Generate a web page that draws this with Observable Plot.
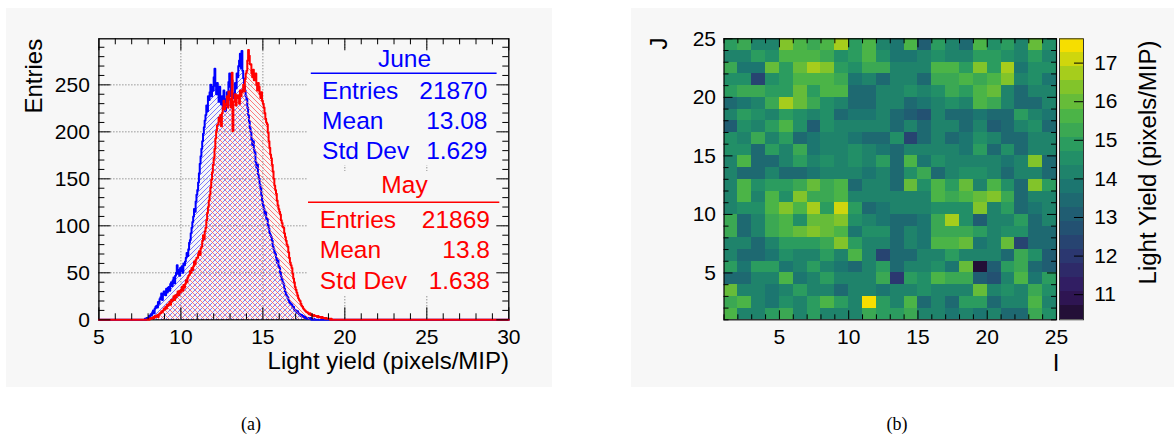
<!DOCTYPE html>
<html>
<head>
<meta charset="utf-8">
<script src="https://cdn.jsdelivr.net/npm/d3@7"></script>
<script src="https://cdn.jsdelivr.net/npm/@observablehq/plot@0.6"></script>
<style>
  html, body { margin: 0; padding: 0; background: #ffffff; width: 1174px; height: 437px; overflow: hidden; }
  #page { position: relative; width: 1174px; height: 437px; font-family: "Liberation Sans", Arial, Helvetica, sans-serif; }
  .panel { position: absolute; background: #f7f7f7; }
  .holder { position: absolute; top: 0; }
</style>
</head>
<body>
<svg width="0" height="0" style="position:absolute;left:0;top:0">
  <defs>
    <pattern id="hatchBlue" patternUnits="userSpaceOnUse" width="5" height="5">
      <path d="M-1,1 l2,-2 M0,5 l5,-5 M4,6 l2,-2" stroke="#5a5aff" stroke-width="0.8" fill="none"/>
    </pattern>
    <pattern id="hatchRed" patternUnits="userSpaceOnUse" width="5" height="5">
      <path d="M-1,4 l2,2 M0,0 l5,5 M4,-1 l2,2" stroke="#ff5a5a" stroke-width="0.8" fill="none"/>
    </pattern>
  </defs>
</svg>
<div id="page">
  <div class="panel" style="left:6px;top:8px;width:546px;height:379px"></div>
  <div class="panel" style="left:631px;top:8px;width:543px;height:379px"></div>
  <div id="plotA" class="holder" style="left:0px;width:560px;height:395px"></div>
  <div id="plotB" class="holder" style="left:600px;width:574px;height:395px"></div>
  <div id="plotC" class="holder" style="left:1059.3px;width:114.7px;height:395px"></div>
  <svg id="captions" width="1174" height="437" style="position:absolute;left:0;top:0;pointer-events:none"></svg>
</div>
<script>
// ---------------- DATA ----------------
const binWidth = 0.05;

// June histogram (blue): counts per 0.05 bin starting at juneStart
const juneStart = 7.80;
const juneCounts = [
  1,0,2,1,
  2,4,3,6,5,
  8,10,7,12,14,
  15,13,19,17,22,
  24,28,21,27,30,
  30,26,33,29,34,
  35,31,38,40,36,
  42,45,39,47,50,
  58,49,53,47,55,
  52,57,50,60,58,
  62,66,71,68,75,
  82,85,92,98,104,
  110,118,115,126,133,
  138,146,156,166,174,
  182,190,198,205,212,
  218,228,222,238,234,
  242,250,238,248,244,
  258,267,249,240,252,
  245,232,248,238,229,
  238,226,244,235,222,
  235,242,228,253,262,
  248,238,255,241,236,
  240,252,246,262,258,
  270,276,283,268,286,
  265,257,249,244,238,
  235,226,218,211,204,
  200,192,186,190,181,
  178,168,162,165,155,
  150,144,140,132,126,
  122,118,112,115,108,
  107,101,97,92,90,
  88,84,78,75,72,
  70,66,61,63,57,
  55,50,46,43,40,
  38,33,30,27,25,
  24,21,19,18,17,
  16,13,14,11,10,
  10,8,9,7,6,
  6,4,5,3,4,
  3,2,3,2,1,
  2,1,1,2,0,
  1,0,1
];

// May histogram (red)
const mayStart = 8.00;
const mayCounts = [
  1,0,1,2,1,
  2,3,2,4,3,
  4,5,3,6,7,
  7,9,8,10,12,
  11,14,12,16,15,
  17,19,16,21,20,
  22,25,21,26,24,
  27,30,26,31,29,
  32,35,31,37,34,
  38,42,40,45,47,
  48,52,50,55,53,
  57,62,59,64,66,
  66,70,73,69,76,
  78,84,90,86,94,
  98,106,114,120,127,
  133,141,149,157,165,
  172,182,193,201,207,
  208,215,211,218,206,
  220,226,233,224,229,
  230,238,226,243,235,
  235,226,263,201,232,
  232,240,228,236,239,
  237,230,244,238,242,
  245,250,243,256,262,
  265,276,287,281,272,
  272,262,258,266,255,
  258,262,250,244,252,
  248,240,236,242,233,
  230,226,220,214,210,
  208,199,190,183,176,
  172,165,158,150,143,
  138,134,127,122,118,
  115,112,106,103,99,
  98,92,88,84,80,
  78,72,66,61,58,
  55,49,44,40,35,
  32,29,26,23,21,
  20,17,15,14,12,
  11,10,9,8,8,
  7,6,7,5,6,
  5,4,5,4,4,
  4,3,4,3,3,
  3,2,3,2,2,
  2,1,2,1,1,
  1,1,0,1
];

const seriesNames = ["June", "May"];
const seriesColors = ["#0000ff", "#ff0000"];
const statLabels = ["Entries", "Mean", "Std Dev"];
const juneStats = ["21870", "13.08", "1.629"];
const mayStats = ["21869", "13.8", "1.638"];

const histXTicks = [5, 10, 15, 20, 25, 30];
const histYTicks = [0, 50, 100, 150, 200, 250];
const histXTitle = "Light yield (pixels/MIP)";
const histYTitle = "Entries";

// Light yield map: rows from J = 24 (top) down to J = 1, columns I = 1..24
const lightYieldRows = [
  [14.9,15.4,14.0,14.3,16.4,15.8,15.4,15.6,16.9,15.0,15.7,14.2,13.7,15.6,13.0,14.9,14.3,13.6,15.6,14.6,15.0,14.2,15.9,14.6],
  [14.2,14.2,14.8,14.5,15.7,15.7,15.7,15.4,14.6,14.9,15.6,14.7,13.8,13.7,14.0,14.6,14.2,14.2,15.0,14.8,14.5,14.3,15.0,14.3],
  [15.3,13.8,13.8,16.0,15.0,15.9,16.8,16.4,14.8,14.4,15.3,15.3,14.2,14.2,14.2,15.6,15.6,14.9,16.3,14.8,16.8,13.8,14.6,14.5],
  [14.4,14.4,12.2,14.4,14.9,15.7,15.7,15.7,15.2,13.8,14.3,13.6,14.1,14.2,13.6,15.3,15.3,15.6,15.3,15.6,16.3,14.3,14.6,13.8],
  [15.0,15.4,15.4,14.8,14.8,15.9,14.8,15.7,15.7,13.6,13.6,14.1,14.1,14.7,14.3,14.6,15.2,14.8,15.5,15.9,14.1,13.5,14.2,14.0],
  [13.3,13.9,14.1,15.2,16.8,15.9,15.2,14.7,14.2,13.6,13.4,14.1,14.0,13.5,13.7,14.0,14.5,14.2,15.6,15.2,14.1,13.3,13.5,14.2],
  [14.2,14.8,14.5,14.0,14.9,14.6,14.2,14.5,13.3,13.9,13.9,14.2,13.6,13.2,12.8,14.0,13.6,13.6,13.9,13.5,13.3,14.9,14.1,13.7],
  [13.2,14.6,14.0,14.8,15.6,14.6,13.2,14.5,14.3,14.2,14.2,14.0,13.6,14.2,13.5,14.1,14.1,13.4,14.3,13.1,13.5,14.0,14.7,13.6],
  [14.5,14.3,15.3,14.2,14.8,13.4,13.9,14.2,14.2,13.7,13.6,13.4,14.6,12.4,13.5,14.2,13.4,13.7,14.6,14.1,13.4,13.6,14.2,14.0],
  [14.4,14.6,13.6,14.8,14.3,15.2,13.8,14.3,14.1,14.5,14.2,13.8,13.5,14.0,14.0,14.2,14.1,13.8,14.9,13.6,14.6,13.6,14.2,14.2],
  [14.3,15.8,13.6,13.6,14.0,14.8,14.2,14.4,14.2,14.5,14.0,14.8,13.5,15.6,13.7,14.6,14.1,14.3,14.3,14.0,13.8,14.2,16.3,13.6],
  [14.3,13.4,13.4,14.1,13.3,13.5,13.7,14.0,14.2,14.0,13.8,14.2,13.4,14.5,15.3,13.6,14.1,14.5,14.4,14.1,13.6,14.3,14.0,13.5],
  [14.3,15.7,14.6,15.0,15.0,15.2,15.9,15.3,15.6,13.3,14.3,14.3,13.6,16.0,14.4,15.6,14.9,15.9,14.3,15.6,14.6,13.6,16.3,14.8],
  [14.3,15.6,14.3,15.6,14.7,16.3,15.4,15.4,15.8,14.1,14.1,14.2,14.0,14.0,14.2,15.6,15.3,15.6,15.9,16.5,15.3,13.6,14.3,14.1],
  [14.2,14.6,14.6,15.8,16.2,15.8,16.8,14.8,17.2,15.0,13.6,13.9,14.1,14.0,14.2,14.7,14.7,14.7,16.3,14.0,14.8,13.3,13.7,14.2],
  [15.3,13.4,14.3,15.4,15.6,14.6,16.0,16.0,16.3,14.7,14.3,13.7,13.6,13.6,13.8,15.2,16.8,14.6,13.0,14.3,14.2,14.8,13.5,14.1],
  [15.3,13.4,14.1,15.2,15.7,16.1,16.5,15.9,15.6,13.8,14.4,14.4,13.3,14.3,13.8,15.3,15.3,15.3,14.9,14.2,14.6,14.6,13.3,13.6],
  [14.2,14.2,13.6,14.2,14.9,14.9,15.0,15.3,16.5,15.0,14.3,14.2,13.5,14.2,13.7,15.7,15.6,16.1,13.7,14.2,16.1,12.3,13.5,13.5],
  [14.3,13.6,13.4,13.7,14.7,14.1,14.1,14.8,14.3,15.7,14.1,12.3,13.5,13.6,14.0,14.0,14.8,14.1,14.1,14.0,13.3,15.4,14.6,13.2],
  [14.9,13.7,14.8,14.9,13.7,14.0,14.9,14.2,13.7,13.4,14.1,14.8,13.3,14.1,14.2,14.5,13.8,16.1,10.4,13.2,14.8,15.4,13.6,13.1],
  [13.6,13.6,14.2,14.2,15.7,13.8,14.2,14.8,14.3,14.2,14.2,15.2,12.0,15.0,14.7,15.6,15.3,15.3,13.1,12.8,14.2,15.6,13.8,14.8],
  [15.9,14.3,14.3,13.8,14.2,14.8,14.2,14.3,13.4,14.1,14.1,13.8,14.2,14.2,14.5,14.2,14.2,14.3,16.1,14.2,14.6,14.2,15.4,14.4],
  [15.3,15.8,14.3,13.8,14.7,14.1,14.8,15.6,14.8,14.2,17.6,14.8,14.2,15.6,13.5,14.2,13.5,14.8,14.8,13.6,14.3,14.3,15.6,14.3],
  [15.8,14.3,14.0,14.8,15.2,14.1,14.9,14.2,14.2,14.2,15.1,14.8,14.8,15.2,14.2,14.2,13.8,14.0,13.7,14.3,13.4,13.6,15.2,14.7]
];
const mapTicks = [5, 10, 15, 20, 25];
const colorbarTicks = [11, 12, 13, 14, 15, 16, 17];
const mapXTitle = "I";
const mapYTitle = "J";
const colorbarTitle = "Light Yield (pixels/MIP)";
const zRange = [10.35, 17.63];
const nContours = 20;
const viridisStops = ["rgb(26,9,30)", "rgb(51,24,96)", "rgb(43,55,112)", "rgb(33,87,114)", "rgb(28,118,112)",
                      "rgb(35,150,101)", "rgb(74,180,72)", "rgb(144,200,35)", "rgb(246,222,0)"];
const captions = ["(a)", "(b)"];

// ---------------- COMMON ----------------
const font = "'Liberation Sans', Arial, Helvetica, sans-serif";
const svgStyle = {background: "none", fontFamily: font, overflow: "visible"};

// ---------------- PANEL (a): histograms ----------------
const A = {w: 560, h: 395, left: 98.4, right: 508.3, top: 38.3, bottom: 319.3};
const xDomA = [5, 30], yDomA = [0, 299];
const pxX = (A.right - A.left) / (xDomA[1] - xDomA[0]);
const pxY = (A.bottom - A.top) / (yDomA[1] - yDomA[0]);
const xAt = px => xDomA[0] + (px - A.left) / pxX;
const yAt = py => yDomA[0] + (A.bottom - py) / pxY;

function histPoints(start, counts) {
  const pts = [{x: xDomA[0], y: 0}];
  counts.forEach((c, i) => pts.push({x: start + i * binWidth, y: c}));
  pts.push({x: start + counts.length * binWidth, y: 0});
  pts.push({x: xDomA[1], y: 0});
  return pts;
}
const junePts = histPoints(juneStart, juneCounts);
const mayPts = histPoints(mayStart, mayCounts);

const xMinor = d3.range(xDomA[0], xDomA[1] + 0.5, 1);
const yMinor = d3.range(0, yDomA[1], 10);
const tl = (v, major) => (major ? 12 : 6);

const blocks = [
  {box: [307, 48, 501, 165], titleY: 66.7, lineY: 72.7, lineX: [310.8, 496.6], rowsY: [98.3, 128.3, 158.3], labelX: 321.6, valueX: 487, values: juneStats},
  {box: [307, 171, 501, 296], titleY: 192.7, lineY: 201.7, lineX: [308, 499.3], rowsY: [227.3, 257.3, 288.3], labelX: 319.3, valueX: 489.5, values: mayStats}
];
const statTitleX = 404;
const boxes = blocks.map(b => ({x1: xAt(b.box[0]), x2: xAt(b.box[2]), y1: yAt(b.box[3]), y2: yAt(b.box[1])}));
const titleTexts = blocks.map((b, i) => ({x: xAt(statTitleX), y: yAt(b.titleY), text: seriesNames[i], c: seriesColors[i]}));
const titleLines = blocks.map((b, i) => ({y: yAt(b.lineY), x1: xAt(b.lineX[0]), x2: xAt(b.lineX[1]), c: seriesColors[i]}));
const labelTexts = blocks.flatMap((b, i) => statLabels.map((s, k) => ({x: xAt(b.labelX), y: yAt(b.rowsY[k]), text: s, c: seriesColors[i]})));
const valueTexts = blocks.flatMap((b, i) => b.values.map((s, k) => ({x: xAt(b.valueX), y: yAt(b.rowsY[k]), text: s, c: seriesColors[i]})));

const plotA = Plot.plot({
  width: A.w, height: A.h,
  marginLeft: A.left, marginRight: A.w - A.right, marginTop: A.top, marginBottom: A.h - A.bottom,
  x: {domain: xDomA, label: null},
  y: {domain: yDomA, label: null},
  style: svgStyle,
  marks: [
    Plot.ruleX(histXTicks.slice(1, -1), {stroke: "#666", strokeDasharray: "1,2", strokeWidth: 1}),
    Plot.ruleY(histYTicks.slice(1), {stroke: "#666", strokeDasharray: "1,2", strokeWidth: 1}),
    Plot.rect(boxes, {x1: "x1", x2: "x2", y1: "y1", y2: "y2", fill: "#f7f7f7"}),
    Plot.frame({stroke: "black", strokeWidth: 1.3}),
    Plot.areaY(junePts, {x: "x", y: "y", curve: "step-after", fill: "url(#hatchBlue)"}),
    Plot.lineY(junePts, {x: "x", y: "y", curve: "step-after", stroke: seriesColors[0], strokeWidth: 2}),
    Plot.areaY(mayPts, {x: "x", y: "y", curve: "step-after", fill: "url(#hatchRed)"}),
    Plot.lineY(mayPts, {x: "x", y: "y", curve: "step-after", stroke: seriesColors[1], strokeWidth: 2}),
    // inward ticks on all four sides
    Plot.ruleX(xMinor, {y1: yDomA[0], y2: d => yDomA[0] + tl(d, d % 5 === 0) / pxY, stroke: "black", strokeWidth: 1}),
    Plot.ruleX(xMinor, {y1: yDomA[1], y2: d => yDomA[1] - tl(d, d % 5 === 0) / pxY, stroke: "black", strokeWidth: 1}),
    Plot.ruleY(yMinor, {x1: xDomA[0], x2: d => xDomA[0] + tl(d, d % 50 === 0) / pxX, stroke: "black", strokeWidth: 1}),
    Plot.ruleY(yMinor, {x1: xDomA[1], x2: d => xDomA[1] - tl(d, d % 50 === 0) / pxX, stroke: "black", strokeWidth: 1}),
    Plot.axisX(histXTicks, {anchor: "bottom", tickSize: 0, tickPadding: 9, fontSize: 21, label: null, fill: "black"}),
    Plot.axisY(histYTicks, {anchor: "left", tickSize: 0, tickPadding: 9, fontSize: 21, label: null, fill: "black"}),
    Plot.text([histXTitle], {frameAnchor: "bottom-right", textAnchor: "end", lineAnchor: "bottom", dx: 0.2, dy: 48.7, fontSize: 24, fill: "black"}),
    Plot.text([histYTitle], {frameAnchor: "top-left", rotate: -90, textAnchor: "end", lineAnchor: "bottom", dx: 41.5 - A.left, dy: 0, fontSize: 24, fill: "black"}),
    // stats boxes
    Plot.ruleY(titleLines, {y: "y", x1: "x1", x2: "x2", stroke: "c", strokeWidth: 1.6}),
    Plot.text(titleTexts, {x: "x", y: "y", text: "text", fill: "c", textAnchor: "middle", lineAnchor: "bottom", fontSize: 24.5}),
    Plot.text(labelTexts, {x: "x", y: "y", text: "text", fill: "c", textAnchor: "start", lineAnchor: "bottom", fontSize: 24.5}),
    Plot.text(valueTexts, {x: "x", y: "y", text: "text", fill: "c", textAnchor: "end", lineAnchor: "bottom", fontSize: 24.5})
  ]
});
document.getElementById("plotA").appendChild(plotA);

// ---------------- PANEL (b): light-yield map ----------------
const pal = d3.scaleLinear().domain(d3.range(9).map(i => i / 8)).range(viridisStops).interpolate(d3.interpolateRgb);
const bandColors = d3.range(nContours).map(i => pal(Math.floor((i + 0.99) * 255 / nContours) / 254));
const zStep = (zRange[1] - zRange[0]) / nContours;
const thresholds = d3.range(1, nContours).map(k => zRange[0] + k * zStep);
const colorScale = {type: "threshold", domain: thresholds, range: bandColors};

const nI = lightYieldRows[0].length, nJ = lightYieldRows.length;
const cells = [];
lightYieldRows.forEach((row, r) => row.forEach((v, c) => cells.push({i: 1 + c, j: nJ - r, v})));

const B = {x0: 600, w: 574, h: 395, left: 723.5, right: 1056, top: 38.3, bottom: 319.3};
const mapDom = [1, 1 + nI];
const pxI = (B.right - B.left) / nI;
const pxJ = (B.bottom - B.top) / nJ;
const mapMinor = d3.range(1, nI + 1.5, 1);
const mtl = d => (d % 5 === 0 ? 9 : 5);

const plotB = Plot.plot({
  width: B.w, height: B.h,
  marginLeft: B.left - B.x0, marginRight: B.x0 + B.w - B.right, marginTop: B.top, marginBottom: B.h - B.bottom,
  x: {domain: mapDom, label: null},
  y: {domain: [1, 1 + nJ], label: null},
  color: colorScale,
  style: svgStyle,
  marks: [
    Plot.rect(cells, {x1: "i", x2: d => d.i + 1, y1: "j", y2: d => d.j + 1, fill: "v", shapeRendering: "crispEdges"}),
    Plot.ruleX(mapMinor, {y1: 1, y2: d => 1 + mtl(d) / pxJ, stroke: "black", strokeWidth: 1}),
    Plot.ruleX(mapMinor, {y1: 1 + nJ, y2: d => 1 + nJ - mtl(d) / pxJ, stroke: "black", strokeWidth: 1}),
    Plot.ruleY(mapMinor, {x1: 1, x2: d => 1 + mtl(d) / pxI, stroke: "black", strokeWidth: 1}),
    Plot.ruleY(mapMinor, {x1: 1 + nI, x2: d => 1 + nI - mtl(d) / pxI, stroke: "black", strokeWidth: 1}),
    Plot.frame({stroke: "black", strokeWidth: 1.2}),
    Plot.axisX(mapTicks, {anchor: "bottom", tickSize: 0, tickPadding: 9, fontSize: 21, label: null, fill: "black"}),
    Plot.axisY(mapTicks, {anchor: "left", tickSize: 0, tickPadding: 8, fontSize: 21, label: null, fill: "black"}),
    Plot.text([mapXTitle], {frameAnchor: "bottom-right", textAnchor: "end", lineAnchor: "bottom", dx: 3, dy: 50.7, fontSize: 24, fill: "black"}),
    Plot.text([mapYTitle], {frameAnchor: "top-left", rotate: -90, textAnchor: "end", lineAnchor: "bottom", dx: 666 - B.left, dy: -1.3, fontSize: 24, fill: "black"})
  ]
});
document.getElementById("plotB").appendChild(plotB);

// ---------------- colour bar ----------------
const C = {x0: 1059.3, w: 114.7, h: 395, barW: 24, top: 38.3, bottom: 319.3};
const bands = d3.range(nContours).map(i => ({lo: zRange[0] + i * zStep, hi: zRange[0] + (i + 1) * zStep, mid: zRange[0] + (i + 0.5) * zStep}));
const plotC = Plot.plot({
  width: C.w, height: C.h,
  marginLeft: 0, marginRight: C.w - C.barW, marginTop: C.top, marginBottom: C.h - C.bottom,
  x: {domain: [0, 1], axis: null},
  y: {domain: zRange, label: null},
  color: colorScale,
  style: svgStyle,
  marks: [
    Plot.rect(bands, {x1: 0, x2: 1, y1: "lo", y2: "hi", fill: "mid", shapeRendering: "crispEdges"}),
    Plot.ruleY(colorbarTicks, {x1: 1 - 9 / C.barW, x2: 1, stroke: "black", strokeWidth: 1}),
    Plot.frame({stroke: "#333", strokeWidth: 1}),
    Plot.axisY(colorbarTicks, {anchor: "right", tickSize: 0, tickPadding: 10.7, fontSize: 21, label: null, fill: "black"}),
    Plot.text([colorbarTitle], {frameAnchor: "top-right", rotate: -90, textAnchor: "end", lineAnchor: "bottom", dx: 1156 - (C.x0 + C.barW), dy: 1.7, fontSize: 24, fill: "black"})
  ]
});
document.getElementById("plotC").appendChild(plotC);

// ---------------- captions ----------------
const captionX = [251, 897];
d3.select("#captions").selectAll("text").data(captions).join("text")
  .attr("x", (d, i) => captionX[i]).attr("y", 430)
  .attr("text-anchor", "middle")
  .attr("font-family", "'Liberation Serif', 'Times New Roman', serif")
  .attr("font-size", 18)
  .text(d => d);
</script>
</body>
</html>
